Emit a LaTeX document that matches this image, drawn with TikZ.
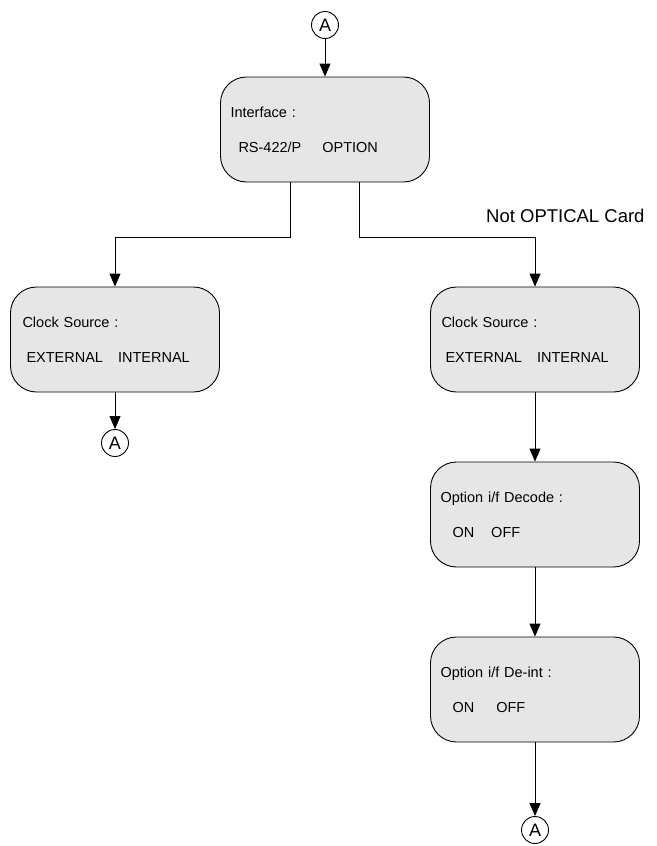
\documentclass[tikz,border=0pt]{standalone}
\usepackage{fontspec}
\setmainfont{Liberation Sans}
\usetikzlibrary{arrows.meta,calc}
\definecolor{boxfill}{HTML}{E6E6E6}
\begin{document}
\begin{tikzpicture}[x=1pt,y=-1pt,
  menubox/.style={draw, line width=0.9pt, fill=boxfill, rounded corners=26pt,
    text width=189pt, inner xsep=10pt, inner ysep=0pt, minimum height=105pt,
    align=left, font=\fontsize{14.5}{35}\selectfont},
  connector/.style={draw, circle, line width=0.9pt, minimum size=27pt,
    inner sep=0pt, font=\fontsize{18}{18}\selectfont},
  flow/.style={line width=0.9pt, -{Triangle[width=11pt,length=13pt]}},
  link/.style={line width=0.9pt}]
\useasboundingbox (0,0) rectangle (656,846);

% entry connector and interface menu
\node[connector] (topA) at (325,25) {A};
\node[menubox] (iface) at (325,129.5)
  {Interface :\\\hspace*{8pt}RS-422/P\hspace{21pt}OPTION};

% clock source menus
\node[menubox] (clkL) at (115,339.5)
  {\hspace*{2pt}Clock Source :\\\hspace*{6pt}EXTERNAL\hspace{15pt}INTERNAL};
\node[menubox] (clkR) at (535,339.5)
  {\hspace*{1pt}Clock Source :\\\hspace*{5pt}EXTERNAL\hspace{15pt}INTERNAL};

% option interface menus
\node[menubox] (dec) at (535,514.5)
  {Option i/f Decode :\\\hspace*{12pt}ON\hspace{17pt}OFF};
\node[menubox] (deint) at (535,689.5)
  {Option i/f De-int :\\\hspace*{12pt}ON\hspace{22pt}OFF};

% exit connectors
\node[connector] (leftA) at (115,443) {A};
\node[connector] (rightA) at (535,830) {A};

% branch label
\node[anchor=base west, inner sep=0pt, font=\fontsize{18.5}{18.5}\selectfont]
  (notopt) at (486,222.7) {Not OPTICAL Card};

% connectors
\draw[flow] (topA) -- (iface);
\draw[flow] ([xshift=-35pt]iface.south) -- ++(0,55) -| (clkL.north);
\draw[flow] ([xshift=34pt]iface.south) -- ++(0,55) -| (clkR.north);
\draw[flow] (clkL) -- (leftA);
\draw[flow] (clkR) -- (dec);
\draw[flow] (dec) -- (deint);
\draw[flow] (deint) -- (rightA);
\end{tikzpicture}
\end{document}
